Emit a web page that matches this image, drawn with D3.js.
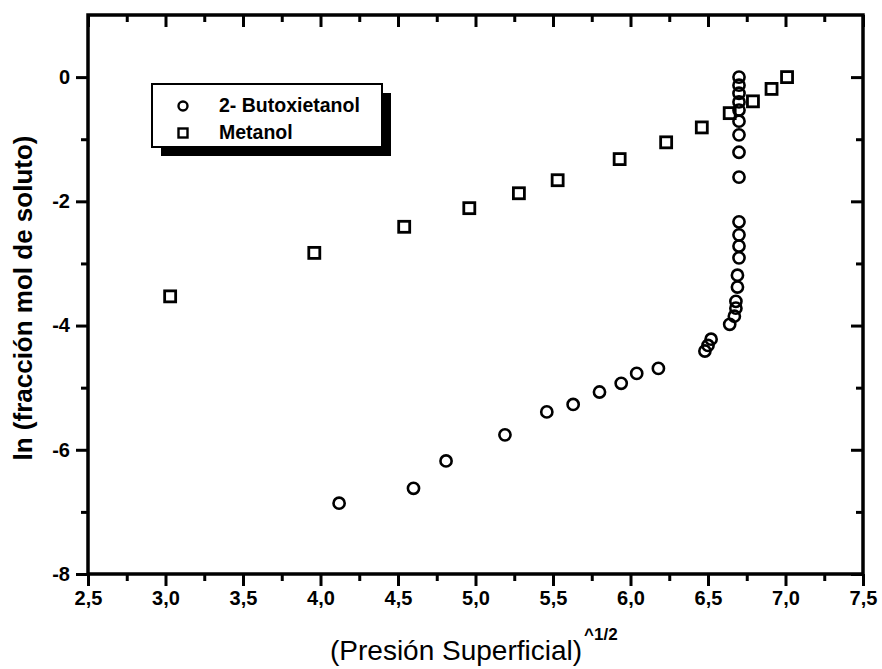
<!DOCTYPE html>
<html>
<head>
<meta charset="utf-8">
<script src="https://cdn.jsdelivr.net/npm/d3@7"></script>
<style>
  html, body { margin: 0; padding: 0; background: #fff; }
  svg { display: block; }
  text { font-family: "Liberation Sans", Arial, Helvetica, sans-serif; fill: #000; }
</style>
</head>
<body>
<svg id="chart" width="882" height="669"></svg>
<script>
// ---- Data ----
const butoxiX = [4.12, 4.60, 4.81, 5.19, 5.46, 5.63, 5.80, 5.94, 6.04, 6.18,
                 6.48, 6.50, 6.52, 6.64, 6.67, 6.68, 6.68, 6.69, 6.69, 6.70,
                 6.70, 6.70, 6.70, 6.70, 6.70, 6.70, 6.70, 6.70, 6.70, 6.70,
                 6.70, 6.70];
const butoxiY = [-6.86, -6.62, -6.18, -5.76, -5.39, -5.27, -5.07, -4.93, -4.77, -4.69,
                 -4.41, -4.32, -4.22, -3.98, -3.85, -3.72, -3.61, -3.38, -3.19, -2.91,
                 -2.72, -2.54, -2.33, -1.61, -1.21, -0.93, -0.71, -0.53, -0.40, -0.26,
                 -0.13, 0.00];
const metanolX = [3.03, 3.96, 4.54, 4.96, 5.28, 5.53, 5.93, 6.23, 6.46, 6.64, 6.79, 6.91, 7.01];
const metanolY = [-3.53, -2.83, -2.41, -2.11, -1.87, -1.66, -1.32, -1.05, -0.81, -0.58, -0.39, -0.19, 0.00];

const seriesNames = ["2- Butoxietanol", "Metanol"];
const xMajorTicks = [2.5, 3.0, 3.5, 4.0, 4.5, 5.0, 5.5, 6.0, 6.5, 7.0, 7.5];
const xMinorTicks = [2.75, 3.25, 3.75, 4.25, 4.75, 5.25, 5.75, 6.25, 6.75, 7.25];
const yMajorTicks = [0, -2, -4, -6, -8];
const yMinorTicks = [-1, -3, -5, -7];
const xTitle = "(Presión Superficial)";
const xTitleSup = "^1/2";
const yTitle = "ln (fracción mol de soluto)";

// ---- Layout ----
const svg = d3.select("#chart");
const L = 88, R = 863, T = 15, B = 574;

const x = d3.scaleLinear().domain([2.5, 7.5]).range([L, R]);
const y = d3.scaleLinear().domain([-8, 1]).range([B, T]);

const fmtX = d => d.toFixed(1).replace(".", ",");
const fmtY = d => String(d);

const majorLen = 12, minorLen = 7;

function styleAxis(g) {
  g.selectAll(".domain").remove();
  g.selectAll(".tick line").attr("stroke", "#000").attr("stroke-width", 3);
  g.selectAll(".tick text")
    .attr("fill", "#000")
    .style("font-size", "20px").style("font-weight", "bold");
}

// Bottom axis (outward ticks)
svg.append("g").attr("transform", `translate(0,${B})`)
  .call(d3.axisBottom(x).tickValues(xMajorTicks).tickFormat(fmtX)
        .tickSizeInner(majorLen).tickSizeOuter(0).tickPadding(5))
  .call(styleAxis);
svg.append("g").attr("transform", `translate(0,${B})`)
  .call(d3.axisBottom(x).tickValues(xMinorTicks).tickFormat("")
        .tickSizeInner(minorLen).tickSizeOuter(0))
  .call(styleAxis);

// Top axis (inward ticks)
svg.append("g").attr("transform", `translate(0,${T})`)
  .call(d3.axisBottom(x).tickValues(xMajorTicks).tickFormat("")
        .tickSizeInner(majorLen).tickSizeOuter(0))
  .call(styleAxis);
svg.append("g").attr("transform", `translate(0,${T})`)
  .call(d3.axisBottom(x).tickValues(xMinorTicks).tickFormat("")
        .tickSizeInner(minorLen).tickSizeOuter(0))
  .call(styleAxis);

// Left axis (outward ticks)
svg.append("g").attr("transform", `translate(${L},0)`)
  .call(d3.axisLeft(y).tickValues(yMajorTicks).tickFormat(fmtY)
        .tickSizeInner(majorLen).tickSizeOuter(0).tickPadding(6))
  .call(styleAxis);
svg.append("g").attr("transform", `translate(${L},0)`)
  .call(d3.axisLeft(y).tickValues(yMinorTicks).tickFormat("")
        .tickSizeInner(minorLen).tickSizeOuter(0))
  .call(styleAxis);

// Right axis (inward ticks)
svg.append("g").attr("transform", `translate(${R},0)`)
  .call(d3.axisLeft(y).tickValues(yMajorTicks).tickFormat("")
        .tickSizeInner(majorLen).tickSizeOuter(0))
  .call(styleAxis);
svg.append("g").attr("transform", `translate(${R},0)`)
  .call(d3.axisLeft(y).tickValues(yMinorTicks).tickFormat("")
        .tickSizeInner(minorLen).tickSizeOuter(0))
  .call(styleAxis);

// Frame
svg.append("rect")
  .attr("x", L).attr("y", T).attr("width", R - L).attr("height", B - T)
  .attr("fill", "none").attr("stroke", "#000").attr("stroke-width", 3.5);

// ---- Marks ----
const butoxi = butoxiX.map((v, i) => ({x: v, y: butoxiY[i]}));
const metanol = metanolX.map((v, i) => ({x: v, y: metanolY[i]}));

const sq = 11;
svg.append("g").selectAll("rect").data(metanol).enter().append("rect")
  .attr("x", d => x(d.x) - sq / 2).attr("y", d => y(d.y) - sq / 2)
  .attr("width", sq).attr("height", sq)
  .attr("fill", "#fff").attr("stroke", "#000").attr("stroke-width", 2.8);

svg.append("g").selectAll("circle").data(butoxi).enter().append("circle")
  .attr("cx", d => x(d.x)).attr("cy", d => y(d.y)).attr("r", 5.6)
  .attr("fill", "none").attr("stroke", "#000").attr("stroke-width", 2.6);

// ---- Legend ----
const lg = svg.append("g");
const lx = 152, ly = 84, lw = 230, lh = 63, sh = 9;
lg.append("rect").attr("x", lx + sh).attr("y", ly + sh).attr("width", lw).attr("height", lh)
  .attr("fill", "#000");
lg.append("rect").attr("x", lx).attr("y", ly).attr("width", lw).attr("height", lh)
  .attr("fill", "#fff").attr("stroke", "#000").attr("stroke-width", 2);
lg.append("circle").attr("cx", 183).attr("cy", 106).attr("r", 4.5)
  .attr("fill", "none").attr("stroke", "#000").attr("stroke-width", 2.4);
lg.append("rect").attr("x", 183 - 4.5).attr("y", 133 - 4.5).attr("width", 9).attr("height", 9)
  .attr("fill", "none").attr("stroke", "#000").attr("stroke-width", 2.4);
lg.selectAll("text.lg").data(seriesNames).enter().append("text")
  .attr("class", "lg")
  .attr("x", 219).attr("y", (d, i) => 112 + i * 27)
  .style("font-size", "19.5px").style("font-weight", "bold")
  .text(d => d);

// ---- Axis titles ----
const xt = svg.append("text")
  .attr("x", 330).attr("y", 660)
  .style("font-size", "28px");
xt.append("tspan").text(xTitle);
xt.append("tspan").attr("dy", -20).attr("dx", 2)
  .style("font-size", "17px").style("font-weight", "bold").text(xTitleSup);

svg.append("text")
  .attr("transform", `translate(32,298) rotate(-90)`)
  .attr("text-anchor", "middle")
  .style("font-size", "26px").style("font-weight", "bold")
  .text(yTitle);
</script>
</body>
</html>
